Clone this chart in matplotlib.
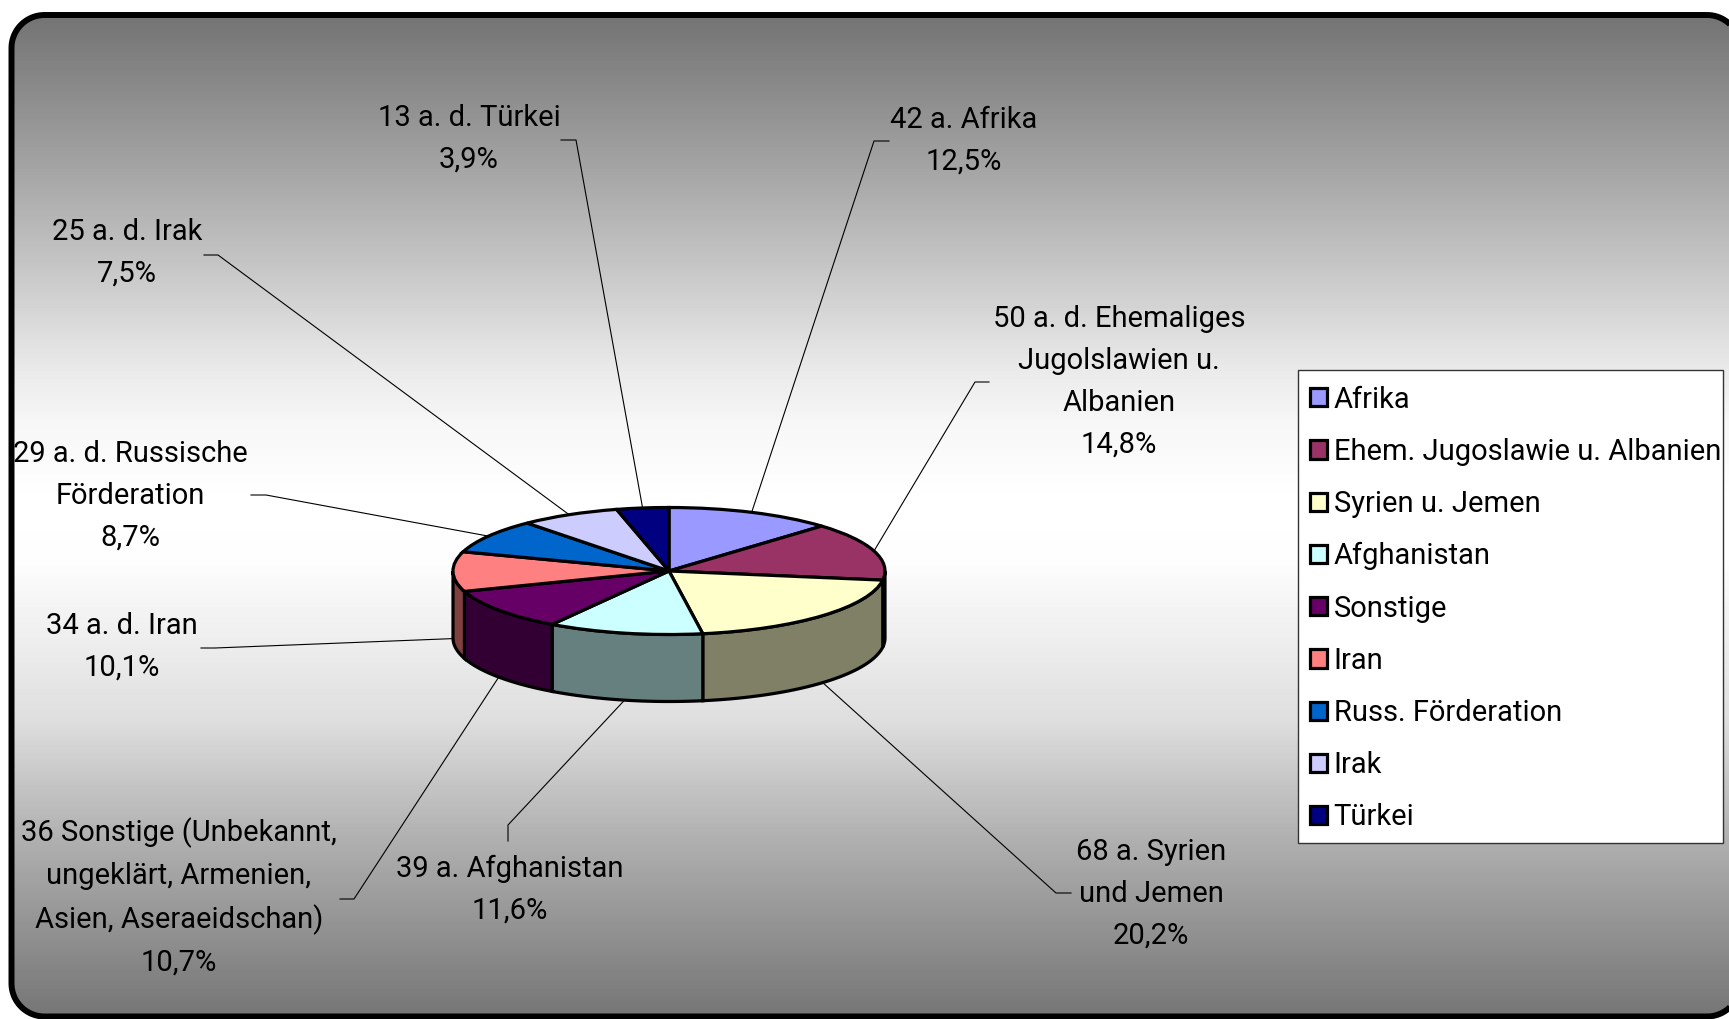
import numpy as np
import matplotlib
matplotlib.use('Agg')
import matplotlib.pyplot as plt
from matplotlib.patches import Polygon, Rectangle

W, H = 1729, 1019

# data
categories = ['Afrika', 'Ehem. Jugoslawie u. Albanien', 'Syrien u. Jemen', 'Afghanistan',
              'Sonstige', 'Iran', 'Russ. Förderation', 'Irak', 'Türkei']
percent = [12.5, 14.8, 20.2, 11.6, 10.7, 10.1, 8.7, 7.5, 3.9]
label_text = ['42 a. Afrika', '50 a. d. Ehemaliges\nJugolslawien u.\nAlbanien',
              '68 a. Syrien\nund Jemen', '39 a. Afghanistan',
              '36 Sonstige (Unbekannt,\nungeklärt, Armenien,\nAsien, Aseraeidschan)',
              '34 a. d. Iran', '29 a. d. Russische\nFörderation', '25 a. d. Irak', '13 a. d. Türkei']
percent_text = ['12,5%', '14,8%', '20,2%', '11,6%', '10,7%', '10,1%', '8,7%', '7,5%', '3,9%']
colors = ['#9999FF', '#993366', '#FFFFCC', '#CCFFFF', '#660066', '#FF8080', '#0066CC', '#CCCCFF', '#000080']

# layout in pixels: label centre, then the two bends of the leader line
label_xy = [(964, 141), (1119, 382), (1151, 894), (510, 890), (179, 897),
            (122, 647), (130, 496), (127, 253), (469, 139)]
bends = [[(874, 141), (889, 141)], [(975, 382), (989, 382)], [(1056, 893), (1071, 893)],
         [(508, 825), (508, 841)], [(354, 899), (340, 899)], [(215, 648), (201, 648)],
         [(266, 495), (251, 495)], [(218, 255), (204, 255)], [(576, 140), (561, 140)]]

cx, cy, rx, ry, depth = 669, 571, 216, 63.5, 67

# background gradient stops, y pixel and grey level
grad_y = [18, 180, 370, 420, 500, 560, 720, 780, 843, 1014]
grad_v = [0x74, 0xA8, 0xEA, 0xF6, 0xFF, 0xFD, 0xDE, 0xC6, 0xAE, 0x76]

plt.rcParams['font.family'] = ['Roboto', 'Liberation Sans', 'DejaVu Sans']


def round_rect(x0, y0, x1, y1, r):
    """Outline of a rounded rectangle as plain line segments"""
    a = np.linspace(0, np.pi / 2, 24)
    c, s = np.cos(a), np.sin(a)
    xs = np.r_[x1 - r + r * s, x1 - r + r * c, x0 + r - r * s, x0 + r - r * c]
    ys = np.r_[y0 + r - r * c, y1 - r + r * s, y1 - r + r * c, y0 + r - r * s]
    return np.c_[xs, ys]


fig = plt.figure(figsize=(W / 100, H / 100), dpi=100, facecolor='white')
ax = fig.add_axes([0, 0, 1, 1])

frame = Polygon(round_rect(11.5, 15, 1740, 1016.5, 33), closed=True, facecolor='none',
                edgecolor='black', linewidth=4.3, zorder=5)
rows = np.arange(H)
grey = np.interp(rows, grad_y, grad_v) / 255
im = ax.imshow(grey[:, None], cmap='gray', vmin=0, vmax=1, extent=(0, W, H, 0),
               aspect='auto', zorder=0)
ax.add_patch(frame)
im.set_clip_path(frame)
ax.set_xlim(0, W)
ax.set_ylim(H, 0)
ax.axis('off')

# pie axes span the top ellipse exactly
pie_ax = fig.add_axes([(cx - rx) / W, 1 - (cy + ry) / H, 2 * rx / W, 2 * ry / H], zorder=3)
wedges, _ = pie_ax.pie(percent, colors=colors, startangle=90, counterclock=False, radius=1,
                       wedgeprops={'edgecolor': 'black', 'linewidth': 2.3, 'zorder': 4})
pie_ax.set_aspect('auto')
pie_ax.set_xlim(-1, 1)
pie_ax.set_ylim(-1, 1)
pie_ax.patch.set_alpha(0)

# side wall of the disc, only the part facing the viewer
d = depth / ry
edges = np.cumsum([0] + percent) / sum(percent) * 2 * np.pi
for i, col in enumerate(colors):
    a = max(edges[i], np.pi / 2)
    b = min(edges[i + 1], 3 * np.pi / 2)
    if a >= b:
        continue
    t = np.linspace(a, b, 60)
    xs = np.r_[np.sin(t), np.sin(t[::-1])]
    yv = np.r_[np.cos(t), np.cos(t[::-1]) - d]
    rgb = np.array(matplotlib.colors.to_rgb(col)) * 0.5
    pie_ax.add_patch(Polygon(np.c_[xs, yv], closed=True, facecolor=rgb, edgecolor='black',
                             linewidth=2.3, clip_on=False, zorder=2))
for w in wedges:
    w.set_clip_on(False)

# labels and leader lines, the line starts on the disc at the middle of the slice
for i, name in enumerate(label_text):
    t = (edges[i] + edges[i + 1]) / 2
    x0 = cx + rx * np.sin(t)
    y0 = cy - ry * np.cos(t)
    if np.cos(t) <= 0:
        y0 += depth
    px = [x0, bends[i][0][0], bends[i][1][0]]
    py = [y0, bends[i][0][1], bends[i][1][1]]
    ax.plot(px, py, color='black', lw=0.8, zorder=2)
    ax.text(label_xy[i][0], label_xy[i][1], name + '\n' + percent_text[i], ha='center', va='center',
            fontsize=21, linespacing=1.625, color='black', zorder=3)

# legend box is drawn by hand, the text is too wide for the legend's own padding
ax.add_patch(Rectangle((1298, 370), 425, 473, facecolor='white', edgecolor='#333333',
                       linewidth=1, zorder=6))
leg = ax.legend(wedges, categories, loc='upper left', bbox_to_anchor=(1299.3, 374.5),
                bbox_transform=ax.transData, fontsize=21, frameon=False, borderaxespad=0,
                handlelength=0.58, handleheight=0.58, handletextpad=0.22, labelspacing=0.83,
                borderpad=0.38)
leg.set_zorder(7)

fig.savefig('out.png', dpi=100)
